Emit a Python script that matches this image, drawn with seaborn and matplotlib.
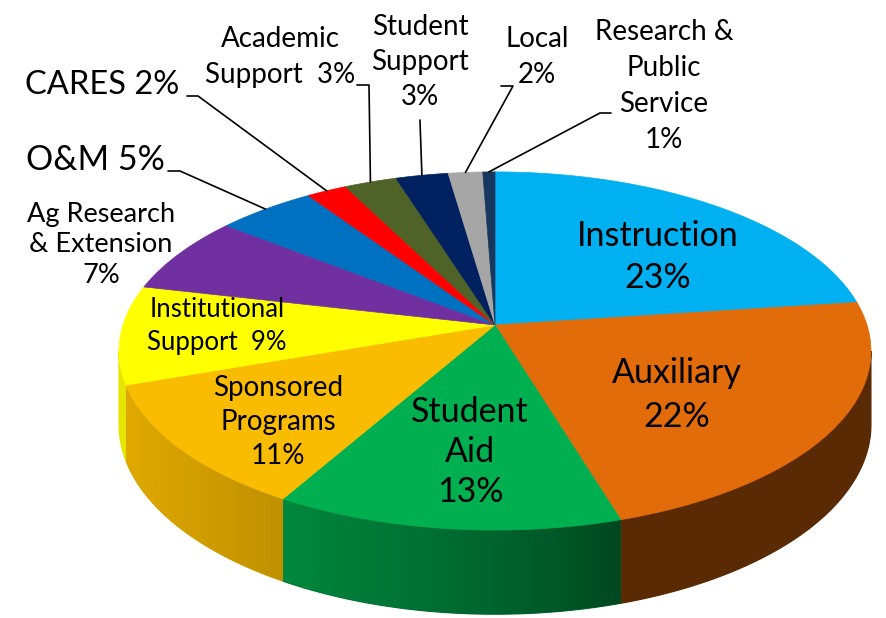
import numpy as np
import matplotlib
matplotlib.use("Agg")
import matplotlib.pyplot as plt
import seaborn as sns
from matplotlib.colors import to_rgb
from matplotlib.patches import Polygon

# data (shares of the budget, %)
categories = ["Instruction", "Auxiliary", "Student\nAid", "Sponsored\nPrograms",
              "Institutional\nSupport ", "Ag Research\n& Extension", "O&M", "CARES",
              "Academic\nSupport ", "Student\nSupport", "Local", "Research &\nPublic\nService"]
shares = [22.9, 22.4, 13.0, 11.4, 8.9, 7.0, 4.9, 2.0, 2.6, 2.6, 1.7, 0.6]
colors = ["#00B0F0", "#E26B0A", "#00B050", "#F9BC00", "#FFFF00", "#7030A0",
          "#0070C0", "#FF0000", "#4F6228", "#002060", "#A6A6A6", "#17375E"]
# how the name and the percent are joined in each label
joiners = ["\n", "\n", "\n", "\n", " ", "\n", " ", " ", " ", "\n", "\n", "\n"]

# label layout (pixel positions of label centres, font size in pt, line spacing in px)
label_xy = [(658, 257), (677, 395), (470, 452), (278, 422), (217, 326), (101, 245),
            (95, 160), (102, 85), (280, 57), (420, 62), (537, 57), (664, 86)]
label_size = [24.5, 24.5, 24.5, 20, 18.5, 19.5, 24.5, 23.5, 20, 20, 20, 20]
label_gap = [47, 50, 45, 39, 35, 35, 30, 30, 40, 40, 40, 41]
# leader lines for the small slices: start point, elbow point
leaders = {6: [(168, 171), (180, 171)], 7: [(187, 96), (198, 96)],
           8: [(357, 85), (369, 85)], 9: [(420, 120), (420, 121)],
           10: [(501, 86), (513, 86)], 11: [(611, 113), (600, 113)]}

# 3d pie geometry in pixels
CX, CY = 495, 325
RX, RY = 372, 175.3
P = 0.145
DEPTH = 72


def project(theta, drop=0.0):
    t = np.radians(theta)
    u = np.sin(t)
    v = -np.cos(t)
    d = 1 - P * v
    return CX + RX * u / d, CY + RY * v / d + drop * DEPTH / d


def shade(x):
    k = np.clip((620 - x) / 495, 0, 1) ** 0.8
    return 0.4 + 0.5 * k


sns.set_theme(style="white")
plt.rcParams["font.family"] = ["Lato", "DejaVu Sans"]

fig = plt.figure(figsize=(8.87, 6.18), dpi=100)
ax = fig.add_axes([0, 0, 1, 1])
ax.axis("off")

total = sum(shares)
bounds = np.concatenate([[0], np.cumsum(shares)]) / total * 360
th_s = np.degrees(np.arccos(-P))

# side walls first, shaded from left to right
for i, col in enumerate(colors):
    a = max(bounds[i], th_s)
    b = min(bounds[i + 1], 360 - th_s)
    if a >= b:
        continue
    ts = np.linspace(a, b, 80)
    xt, yt = project(ts)
    xb, yb = project(ts[::-1], 1)
    xs = np.r_[xt, xb]
    ys = np.r_[yt, yb]
    base = np.array(to_rgb(col))
    poly = Polygon(np.c_[xs, ys], closed=True, fc=base * shade(xs.mean()),
                   ec=base * shade(xs.mean()), lw=0.8)
    ax.add_patch(poly)
    gx = np.linspace(xs.min(), xs.max(), 200)
    img = (base[None, :] * shade(gx)[:, None])[None, :, :]
    im = ax.imshow(img, extent=(xs.min(), xs.max(), ys.max(), ys.min()),
                   aspect="auto", interpolation="bilinear", zorder=1.5)
    im.set_clip_path(poly)

# top face
for i, col in enumerate(colors):
    ts = np.linspace(bounds[i], bounds[i + 1], 60)
    xs, ys = project(ts)
    ax.fill(np.r_[CX, xs], np.r_[CY, ys], color=col, lw=0.5, ec=col, zorder=2)

# labels
for i, name in enumerate(categories):
    txt = f"{name}{joiners[i]}{round(shares[i])}%"
    size = label_size[i]
    ls = label_gap[i] / (size * 100 / 72)
    ax.text(label_xy[i][0], label_xy[i][1], txt, ha="center", va="center",
            fontsize=size, linespacing=ls, color="black", multialignment="center",
            zorder=4)

# leader lines
for i, (p0, p1) in leaders.items():
    mid = (bounds[i] + bounds[i + 1]) / 2
    xe, ye = project(mid)
    ax.plot([p0[0], p1[0], xe], [p0[1], p1[1], ye], color="black", lw=1.2, zorder=3)

ax.set_xlim(0, 887)
ax.set_ylim(618, 0)
fig.savefig("out.png", dpi=100)
